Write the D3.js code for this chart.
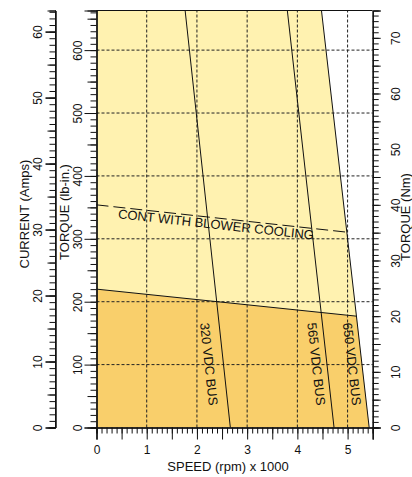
<!DOCTYPE html>
<html><head><meta charset="utf-8">
<script src="https://cdn.jsdelivr.net/npm/d3@7/dist/d3.min.js"></script>
<style>
body{margin:0;background:#fff;}
text{font-family:"Liberation Sans",Arial,Helvetica,sans-serif;fill:#111;}
</style></head>
<body><svg id="chart" width="412" height="477"></svg>
<script>
// ---- data ----
const speedTicks = [0, 1, 2, 3, 4, 5];
const lbinTicks = [0, 100, 200, 300, 400, 500, 600];
const currentTicks = [0, 10, 20, 30, 40, 50, 60];
const nmTicks = [0, 10, 20, 30, 40, 50, 60, 70];
const gridSpeeds = [1, 2, 3, 4, 5];
const gridTorques = [100, 200, 300, 400, 500, 600];
// curves: [speed (krpm), torque (lb-in)]
const bus650 = [[4.48, 663], [5.43, 0]];
const bus565 = [[3.80, 663], [4.73, 0]];
const bus320 = [[1.765, 663], [2.665, 0]];
const contCurve = [[0, 220], [5.18, 177]];
const blowerCurve = [[0, 354], [4.99, 310.5]];
const intermittentZone = [[0, 0], [0, 663], [4.48, 663], [5.43, 0]];
const continuousZone = [[0, 0], [0, 220], [5.18, 177], [5.43, 0]];
const busLabels = ["320 VDC BUS", "565 VDC BUS", "650 VDC BUS"];
const blowerLabel = "CONT WITH BLOWER COOLING";

// ---- layout ----
const svg = d3.select("#chart");
const L = 96.5, R = 372.7, T = 10.5, B = 427.5;
const x = d3.scaleLinear().domain([0, 5.5]).range([L, R]);
const y = d3.scaleLinear().domain([0, 663]).range([B, T]);
const yCur = d3.scaleLinear().domain([0, 63.2]).range([B, T]);
const yNm = d3.scaleLinear().domain([0, 663 / 8.8507]).range([B, T]);

const line = d3.line().x(d => x(d[0])).y(d => y(d[1]));

svg.append("path").attr("d", line(intermittentZone) + "Z").attr("fill", "#FFF2B0");
svg.append("path").attr("d", line(continuousZone) + "Z").attr("fill", "#F9CF6B");

// grid
const grid = svg.append("g").attr("stroke", "#222").attr("stroke-width", 1).attr("stroke-dasharray", "3,2");
grid.selectAll("line.v").data(gridSpeeds).join("line")
  .attr("x1", d => x(d)).attr("x2", d => x(d)).attr("y1", B).attr("y2", T);
grid.selectAll("line.h").data(gridTorques).join("line")
  .attr("y1", d => y(d)).attr("y2", d => y(d)).attr("x1", L).attr("x2", R);

// curves
[bus650, bus565, bus320, contCurve].forEach(c => {
  svg.append("path").attr("d", line(c)).attr("fill", "none").attr("stroke", "#111").attr("stroke-width", 1);
});
svg.append("path").attr("d", line(blowerCurve)).attr("fill", "none").attr("stroke", "#111")
  .attr("stroke-width", 1).attr("stroke-dasharray", "12,5");

// frame top
svg.append("line").attr("x1", L).attr("x2", R).attr("y1", T).attr("y2", T).attr("stroke", "#111");

function styleAxis(g) {
  g.select(".domain").attr("stroke", "#111");
  g.selectAll(".tick line").attr("stroke", "#111");
  g.selectAll("text").attr("font-size", 12).attr("fill", "#111");
}
function minor(axisFn, scale, vals, size) {
  return axisFn(scale).tickValues(vals).tickSize(size).tickFormat("");
}

// x axis
const xr = d3.range(0, 55.01, 1).map(v => v / 10);
svg.append("g").attr("transform", `translate(0,${B})`).call(minor(d3.axisBottom, x, xr, 6)).call(styleAxis);
svg.append("g").attr("transform", `translate(0,${B})`).call(minor(d3.axisBottom, x, [0.5, 1.5, 2.5, 3.5, 4.5, 5.5], 12)).call(styleAxis);
const gx = svg.append("g").attr("transform", `translate(0,${B})`)
  .call(d3.axisBottom(x).tickValues(speedTicks).tickSize(12).tickPadding(6).tickFormat(d3.format("d")));
styleAxis(gx);
gx.selectAll("text").attr("y", 18).attr("dy", "0.71em").attr("font-size", 12);

// left torque lb-in axis
const lr = d3.range(0, 661, 10);
svg.append("g").attr("transform", `translate(${L},0)`).call(minor(d3.axisLeft, y, lr, 6)).call(styleAxis);
svg.append("g").attr("transform", `translate(${L},0)`).call(minor(d3.axisLeft, y, d3.range(50, 661, 100), 9)).call(styleAxis);
const gl = svg.append("g").attr("transform", `translate(${L},0)`)
  .call(d3.axisLeft(y).tickValues(lbinTicks).tickSize(12));
styleAxis(gl);
gl.selectAll(".tick text").attr("x", null).attr("dy", null).attr("text-anchor", "middle")
  .attr("transform", "translate(-14.5,0) rotate(-90)").attr("y", 0);

// current axis
const CX = 55.5;
const cr = d3.range(0, 63.01, 1);
svg.append("g").attr("transform", `translate(${CX},0)`).call(minor(d3.axisLeft, yCur, cr, 6)).call(styleAxis);
svg.append("g").attr("transform", `translate(${CX},0)`).call(minor(d3.axisLeft, yCur, d3.range(5, 63, 10), 8)).call(styleAxis);
const gc = svg.append("g").attr("transform", `translate(${CX},0)`)
  .call(d3.axisLeft(yCur).tickValues(currentTicks).tickSize(10));
styleAxis(gc);
gc.selectAll(".tick line").attr("stroke-width", 1.6);
gc.selectAll(".tick text").attr("x", null).attr("dy", null).attr("text-anchor", "middle")
  .attr("transform", "translate(-13.5,0) rotate(-90)").attr("y", 0);
gc.select(".domain").attr("d", `M0,${B}V${T}`);

// right Nm axis
const nr = d3.range(0, 75, 1);
svg.append("g").attr("transform", `translate(${R},0)`).call(minor(d3.axisRight, yNm, nr, 6)).call(styleAxis);
svg.append("g").attr("transform", `translate(${R},0)`).call(minor(d3.axisRight, yNm, d3.range(5, 75, 10), 8)).call(styleAxis);
const gr = svg.append("g").attr("transform", `translate(${R},0)`)
  .call(d3.axisRight(yNm).tickValues(nmTicks).tickSize(8));
styleAxis(gr);
gr.selectAll(".tick text").attr("x", null).attr("dy", null).attr("text-anchor", "middle")
  .attr("transform", "translate(27.5,0) rotate(-90)").attr("y", 0);

// axis titles
svg.append("text").attr("x", 228).attr("y", 471).attr("text-anchor", "middle").attr("font-size", 13)
  .text("SPEED (rpm) x 1000");
svg.append("text").attr("transform", "translate(28.5,214) rotate(-90)").attr("text-anchor", "middle")
  .attr("font-size", 13).text("CURRENT (Amps)");
svg.append("text").attr("transform", "translate(68.5,212) rotate(-90)").attr("text-anchor", "middle")
  .attr("font-size", 13).text("TORQUE (lb-in.)");
svg.append("text").attr("transform", "translate(410,217) rotate(-90)").attr("text-anchor", "middle")
  .attr("font-size", 13).text("TORQUE (Nm)");

// in-plot labels
function angleOf(c) {
  const dx = x(c[1][0]) - x(c[0][0]), dy = y(c[1][1]) - y(c[0][1]);
  return Math.atan2(dy, dx) * 180 / Math.PI;
}
const busAnchors = [[2.24, 101, bus320], [4.38, 101, bus565], [5.09, 101, bus650]];
busAnchors.forEach((a, i) => {
  svg.append("text").attr("transform", `translate(${x(a[0])},${y(a[1])}) rotate(${angleOf(a[2])})`)
    .attr("text-anchor", "middle").attr("dy", "0.35em").attr("font-size", 13).text(busLabels[i]);
});
svg.append("text").attr("transform", `translate(${x(2.38)},${y(323)}) rotate(${angleOf(blowerCurve)})`)
  .attr("text-anchor", "middle").attr("dy", "0.35em").attr("font-size", 13).text(blowerLabel);
</script></body></html>
